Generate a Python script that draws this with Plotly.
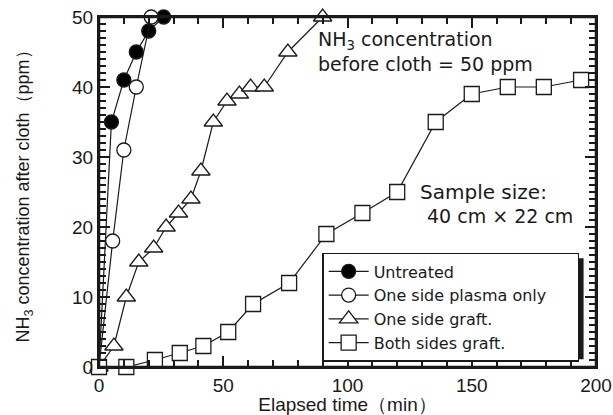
import plotly.graph_objects as go

untreated_x = [0, 5, 10, 15, 20, 26]
untreated_y = [0, 35, 41, 45, 48, 50]

plasma_x = [0, 5.5, 10, 15, 21]
plasma_y = [0, 18, 31, 40, 50]

graft1_x = [0, 6, 11, 16, 22, 27, 32, 37, 41, 46, 51.5, 56.5, 61, 66.5, 76, 90]
graft1_y = [0, 3, 10, 15, 17, 20, 22, 24, 28, 35, 38, 39, 40, 40, 45, 50]

graft2_x = [0, 11, 22.5, 32.5, 42, 52, 62, 76.5, 91.5, 106, 120, 135.5, 150, 164.5, 179, 194]
graft2_y = [0, 0, 1, 2, 3, 5, 9, 12, 19, 22, 25, 35, 39, 40, 40, 41]

NBSP = "\u00a0"
names = ["Untreated", "One side plasma only" + NBSP * 5, "One side graft.", "Both sides graft."]

x_range = [0, 200]
y_range = [0, 50]

FONT = "Liberation Sans, Arial, sans-serif"
WIDE = "DejaVu Sans, sans-serif"
INK = "#1a1a1a"

fig = go.Figure()
series = [
    (untreated_x, untreated_y, "circle", "black", 14),
    (plasma_x, plasma_y, "circle", "white", 14),
    (graft1_x, graft1_y, "triangle-up", "white", 16),
    (graft2_x, graft2_y, "square", "white", 15),
]
for (xs, ys, sym, fill, sz), nm in zip(series, names):
    fig.add_trace(go.Scatter(
        x=xs, y=ys, mode="lines+markers", name=nm,
        line=dict(color=INK, width=1.2),
        marker=dict(symbol=sym, size=sz, color=fill, line=dict(color=INK, width=1.3)),
        cliponaxis=False,
    ))

# helper trace so the minor-tick overlay axes are drawn
fig.add_trace(go.Scatter(x=[None], y=[None], xaxis="x2", yaxis="y2",
                         showlegend=False, hoverinfo="skip"))

fig.update_layout(
    xaxis=dict(
        range=x_range, dtick=50, tick0=0, ticklen=11,
        showline=True, linecolor=INK, linewidth=2, mirror="ticks",
        ticks="inside", tickcolor=INK, tickwidth=2,
        showgrid=False, zeroline=False, layer="above traces",
        tickfont=dict(family=FONT, size=19, color=INK),
        title=dict(text="Elapsed time（min）", font=dict(family=FONT, size=19, color=INK), standoff=0),
    ),
    yaxis=dict(
        range=y_range, dtick=10, tick0=0, ticklen=11,
        showline=True, linecolor=INK, linewidth=2, mirror="ticks",
        ticks="inside", tickcolor=INK, tickwidth=2,
        showgrid=False, zeroline=False, layer="above traces",
        tickfont=dict(family=FONT, size=19, color=INK),
        title=dict(text="NH<sub>3</sub> concentration after cloth（ppm）",
                   font=dict(family=FONT, size=18, color=INK), standoff=38),
    ),
    xaxis2=dict(
        overlaying="x", anchor="y2", side="bottom", range=x_range, dtick=10, tick0=0,
        ticks="inside", ticklen=7, tickwidth=1.5, tickcolor=INK, mirror="ticks",
        showline=False, showticklabels=False, showgrid=False, zeroline=False,
    ),
    yaxis2=dict(
        overlaying="y", anchor="x2", side="left", range=y_range, dtick=1, tick0=0,
        ticks="inside", ticklen=7, tickwidth=1.5, tickcolor=INK, mirror="ticks",
        showline=False, showticklabels=False, showgrid=False, zeroline=False,
    ),
)

# plot frame edges
for (x0, y0, x1, y1) in [(0, 0, 1, 0), (0, 1, 1, 1), (0, 0, 0, 1), (1, 0, 1, 1)]:
    fig.add_shape(type="line", xref="paper", yref="paper", x0=x0, y0=y0, x1=x1, y1=y1,
                  line=dict(color=INK, width=2.5), layer="above")

ann_font = dict(family=WIDE, size=19, color=INK)
fig.add_annotation(x=0.437, y=0.90, xref="paper", yref="paper", xanchor="left", yanchor="middle",
                   align="left", text="NH<sub>3</sub> concentration<br>before cloth = 50 ppm",
                   showarrow=False, font=ann_font)
fig.add_annotation(x=0.641, y=0.50, xref="paper", yref="paper", xanchor="left", yanchor="middle",
                   text="Sample size:", showarrow=False, font=dict(family=WIDE, size=20, color=INK))
fig.add_annotation(x=0.656, y=0.432, xref="paper", yref="paper", xanchor="left", yanchor="middle",
                   text="40 cm × 22 cm", showarrow=False, font=dict(family=WIDE, size=19, color=INK))

# legend drop shadow
fig.add_shape(type="rect", xref="paper", yref="paper",
              x0=0.459, x1=0.975, y0=0.022, y1=0.311,
              fillcolor=INK, line=dict(width=0), layer="above")

fig.update_layout(
    width=613, height=415,
    margin=dict(l=99, r=17, t=17, b=48, autoexpand=False),
    paper_bgcolor="white", plot_bgcolor="white",
    showlegend=True,
    legend=dict(x=0.449, y=0.326, xanchor="left", yanchor="top",
                bgcolor="white", bordercolor=INK, borderwidth=1.5,
                font=dict(family=WIDE, size=16, color=INK),
                tracegroupgap=0, itemwidth=40),
)

fig.write_html("out.html", config={"displayModeBar": False},
               post_script="document.body.style.margin='0';")
